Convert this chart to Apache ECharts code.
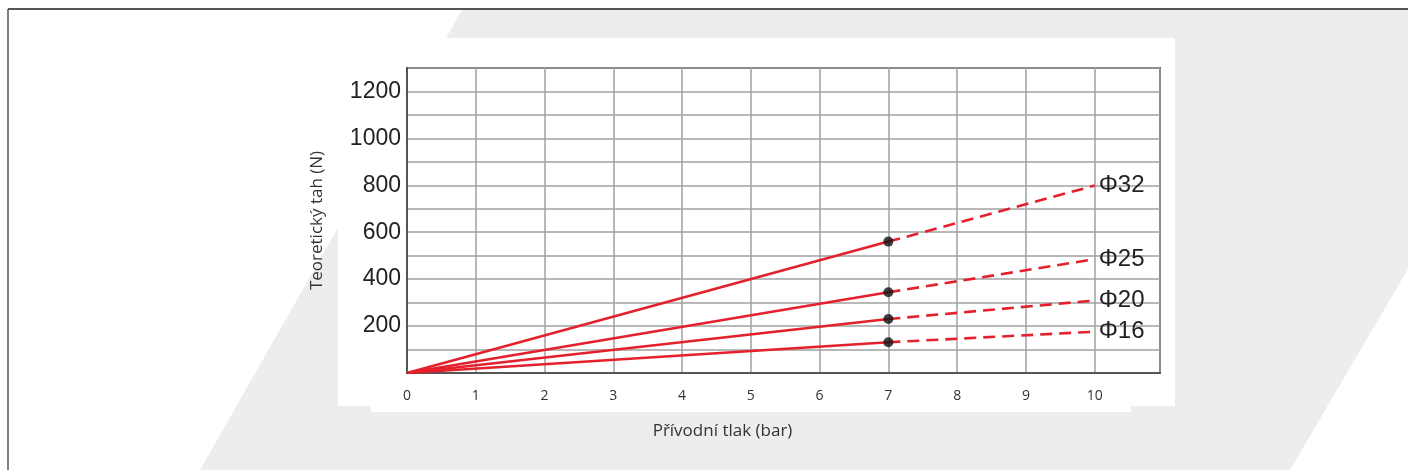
<!DOCTYPE html>
<html>
<head>
<meta charset="utf-8">
<script src="https://cdn.jsdelivr.net/npm/echarts@6/dist/echarts.min.js"></script>
<style>
html,body{margin:0;padding:0;background:#fff;}
#c{width:1408px;height:470px;}
</style>
</head>
<body>
<div id="c"></div>
<script>
// ---- data ----
const bores = ['Φ32', 'Φ25', 'Φ20', 'Φ16'];
const ratedPressure = 7;      // bar, end of solid segment (black dot)
const maxPressure = 10;       // bar, end of dashed segment
const forceAtRated = [560, 344, 230, 131];   // N at 7 bar
const forceAtMax = [799, 485, 309, 176];     // N at 10 bar
const xTickLabels = [0, 1, 2, 3, 4, 5, 6, 7, 8, 9, 10];
const yTickLabels = [200, 400, 600, 800, 1000, 1200];

const RED = '#e3202b';
const series = [];
bores.forEach((name, i) => {
  series.push({
    name: name, type: 'line', showSymbol: false, silent: true,
    lineStyle: {color: RED, width: 2.6},
    data: [[0, 0], [ratedPressure, forceAtRated[i]]]
  });
  series.push({
    name: name, type: 'line', showSymbol: false, silent: true,
    lineStyle: {color: RED, width: 2.6, type: [12, 7]},
    data: [[ratedPressure, forceAtRated[i]], [maxPressure, forceAtMax[i]]],
    endLabel: {
      show: true, formatter: '{a}', distance: 4,
      fontFamily: 'Liberation Sans, Arial, sans-serif', fontSize: 24, color: '#222'
    }
  });
  series.push({
    name: name, type: 'scatter', silent: true, symbolSize: 10, z: 5,
    itemStyle: {color: '#111'},
    data: [[ratedPressure, forceAtRated[i]]]
  });
});

const chart = echarts.init(document.getElementById('c'), null, {renderer: 'canvas'});
chart.setOption({
  animation: false,
  backgroundColor: '#ffffff',
  graphic: [
    {type: 'polygon', z: -100, silent: true,
     shape: {points: [[462, 10], [1560, 10], [1290, 470], [200, 470]]},
     style: {fill: '#ecedef'}},
    {type: 'rect', z: -90, silent: true,
     shape: {x: 338, y: 38, width: 837, height: 368}, style: {fill: '#ffffff'}},
    {type: 'rect', z: -90, silent: true,
     shape: {x: 371, y: 405, width: 760, height: 7}, style: {fill: '#ffffff'}},
    {type: 'line', z: -80, silent: true,
     shape: {x1: 8, y1: 9, x2: 1408, y2: 9}, style: {stroke: '#555', lineWidth: 2}},
    {type: 'line', z: -80, silent: true,
     shape: {x1: 8, y1: 9, x2: 8, y2: 470}, style: {stroke: '#555', lineWidth: 1.5}}
  ],
  grid: {
    left: 407, right: 248, top: 68, bottom: 97,
    show: true, borderColor: '#555', borderWidth: 2, backgroundColor: 'transparent'
  },
  xAxis: {
    type: 'value', min: 0, max: 10.95, interval: 1,
    name: 'Přívodní tlak (bar)', nameLocation: 'middle', nameGap: 50,
    nameTextStyle: {fontFamily: 'Open Sans, sans-serif', fontSize: 17, color: '#333',
                    padding: [0, 122, 0, 0]},
    axisLine: {show: true, onZero: false, lineStyle: {color: '#555', width: 2}},
    axisTick: {show: false},
    axisLabel: {
      fontFamily: 'Open Sans, sans-serif', fontSize: 14, color: '#333', margin: 16,
      showMaxLabel: false,
      formatter: v => (xTickLabels.indexOf(v) >= 0 ? String(v) : '')
    },
    splitLine: {show: true, lineStyle: {color: '#a0a0a0', width: 1.5}}
  },
  yAxis: {
    type: 'value', min: 0, max: 1300, interval: 100,
    name: 'Teoretický tah (N)', nameLocation: 'middle', nameGap: 81, nameRotate: 90,
    nameTextStyle: {fontFamily: 'Open Sans, sans-serif', fontSize: 17, color: '#333'},
    axisLine: {show: true, lineStyle: {color: '#555', width: 2}},
    axisTick: {show: false},
    axisLabel: {
      fontFamily: 'Liberation Sans, Arial, sans-serif', fontSize: 23, color: '#222', margin: 6,
      formatter: v => (yTickLabels.indexOf(v) >= 0 ? String(v) : '')
    },
    splitLine: {show: true, lineStyle: {color: '#a0a0a0', width: 1.5}}
  },
  series: series
});
</script>
</body>
</html>
